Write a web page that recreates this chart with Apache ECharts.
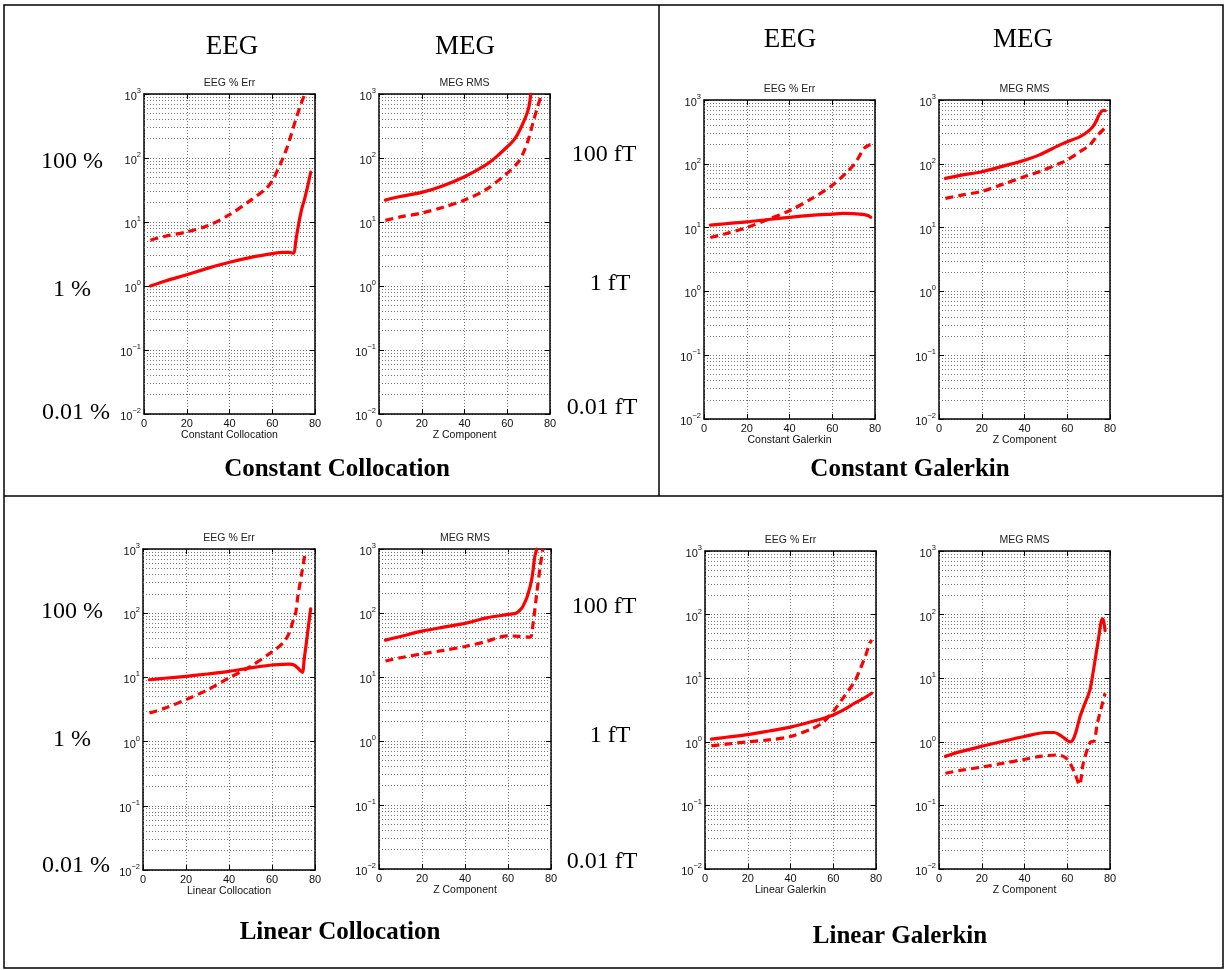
<!DOCTYPE html>
<html><head><meta charset="utf-8">
<script src="https://cdn.jsdelivr.net/npm/echarts@6/dist/echarts.min.js"></script>
<style>html,body{margin:0;padding:0;background:#fff}#c{width:1225px;height:970px}</style>
</head><body><div id="c"></div>
<script>
// ---- tick / label data ----
const xTicks = [0, 20, 40, 60, 80];
const yDecades = [0.01, 0.1, 1, 10, 100, 1000];
const panelTitles = ['EEG % Err', 'MEG RMS', 'EEG % Err', 'MEG RMS', 'EEG % Err', 'MEG RMS', 'EEG % Err', 'MEG RMS'];
const xNames = ['Constant Collocation', 'Z Component', 'Constant Galerkin', 'Z Component', 'Linear Collocation', 'Z Component', 'Linear Galerkin', 'Z Component'];

// ---- series values [x, y] ----
// Constant Collocation
const ccEegSolid = [[3,1.0],[10,1.2],[20,1.5],[30,1.9],[40,2.35],[50,2.8],[60,3.2],[65,3.35],[68,3.35],[70,3.25],[71,5],[72,8],[73,12],[74,17],[75,22],[76,30],[77,42],[78,60]];
const ccEegDashed = [[3,5.2],[10,6.0],[20,7.0],[30,8.8],[40,13],[50,22],[57,33],[60,44],[63,70],[65,100],[67,148],[69,240],[71,400],[73,630],[75.2,1000]];
const ccMegSolid = [[3,22],[10,25],[20,29],[30,37],[40,51],[50,78],[55,105],[60,150],[63,190],[65,240],[68,390],[70,600],[71,1000]];
const ccMegDashed = [[3,10.6],[10,12],[20,13.8],[30,17],[40,22],[50,32],[60,58],[65,85],[68,130],[70,200],[72,350],[74,600],[76.1,1000]];
// Constant Galerkin
const cgEegSolid = [[3,10.9],[10,11.5],[20,12.3],[30,13.4],[40,14.5],[50,15.5],[60,16.3],[65,16.7],[70,16.6],[75,16.0],[77,15.3],[78,14.5]];
const cgEegDashed = [[3,7.0],[10,8.0],[20,10],[30,13.5],[40,18.4],[50,28],[60,46],[70,96],[75,176],[77,195],[78,200]];
const cgMegSolid = [[3,59],[10,66],[20,75],[30,92],[40,114],[47,138],[56.6,198],[60,222],[66,266],[70.6,340],[73,430],[75.3,620],[76.9,690],[77.8,680]];
const cgMegDashed = [[3,28.7],[10,32],[20,37],[30,48],[40,63],[47.3,76],[56.6,102],[60,115],[66,155],[70.6,198],[74.4,285],[77.7,365]];
// Linear Collocation
const lcEegSolid = [[3,9.2],[10,9.7],[20,10.4],[30,11.3],[40,12.4],[50,14.1],[60,15.6],[65,16.0],[68,16.1],[70,15.7],[72,14],[73.5,12.5],[74.2,12],[75,19.5],[76,35],[77,65],[78,117]];
const lcEegDashed = [[3,2.8],[10,3.3],[20,4.5],[30,6.4],[40,9.8],[50,14.8],[60,25],[65,34],[68,49],[70,80],[71,100],[72,180],[74,450],[75.5,920]];
const lcMegSolid = [[3,37.7],[10,43],[20,52],[30,60],[40,69],[50,84],[60,95],[64,100],[66,115],[67,128],[69,183],[71,330],[72.5,770],[73.4,1000]];
const lcMegDashed = [[3,17.8],[10,20],[20,23],[30,26],[40,30],[50,36],[55,41],[60,44],[65,43],[70.3,42],[71.6,66],[73.4,206],[75,540],[76.2,1000]];
// Linear Galerkin
const lgEegSolid = [[3,1.10],[10,1.18],[20,1.30],[30,1.48],[40,1.70],[50,2.08],[60,2.65],[65,3.2],[70,4.05],[75,5.0],[78,5.8]];
const lgEegDashed = [[3,0.865],[10,0.92],[20,1.0],[30,1.07],[40,1.21],[50,1.6],[55,2.0],[60,3.0],[65,5.1],[70,8.9],[73,15],[75,22],[77,35],[78,40]];
const lgMegSolid = [[3,0.59],[10,0.70],[20,0.85],[30,1.02],[40,1.21],[50,1.40],[54,1.40],[57,1.25],[59.5,1.08],[61.3,1.0],[62.5,1.05],[64,1.4],[66,2.5],[68,3.8],[70.6,6.5],[72.2,13],[74.5,39],[76.4,86],[77,80],[77.7,56]];
const lgMegDashed = [[3,0.32],[10,0.355],[20,0.40],[30,0.46],[40,0.53],[47.3,0.59],[55,0.62],[58.2,0.59],[60,0.53],[62.1,0.41],[64,0.29],[65.7,0.21],[67.5,0.46],[69.9,0.85],[71,1.0],[72.5,1.02],[74.1,1.96],[76.1,3.6],[77.7,5.8]];

const solids = [ccEegSolid, ccMegSolid, cgEegSolid, cgMegSolid, lcEegSolid, lcMegSolid, lgEegSolid, lgMegSolid];
const dasheds = [ccEegDashed, ccMegDashed, cgEegDashed, cgMegDashed, lcEegDashed, lcMegDashed, lgEegDashed, lgMegDashed];

// ---- layout (px) ----
const layout = [
  [144, 94, 171, 320], [379, 94, 171, 320], [704, 100, 171, 319], [939, 100, 171, 319],
  [143, 549, 172, 321], [379, 549, 172, 320], [705, 551, 171, 318], [939, 551, 171, 318]
];

const SANS = '"Liberation Sans", Arial, sans-serif';
const SERIF = '"Liberation Serif", "Times New Roman", serif';

// minor log grid positions (2..9 within each decade)
const minorVals = [];
for (let i = 0; i < yDecades.length - 1; i++) {
  for (let m = 2; m <= 9; m++) minorVals.push(+(m * yDecades[i]).toPrecision(3));
}

const axisLineStyle = { color: '#000', width: 1.5 };
const gridLineStyle = { type: [1, 2], color: '#777', width: 1 };

const xAxis = [], yAxis = [], series = [], grid = [];
layout.forEach(([l, t, w, h], i) => {
  grid.push({ left: l, top: t, width: w, height: h });
  xAxis.push({
    gridIndex: i, type: 'value', min: xTicks[0], max: xTicks[xTicks.length - 1], interval: 20, position: 'bottom',
    axisLine: { onZero: false, lineStyle: axisLineStyle },
    axisTick: { inside: true, length: 5, lineStyle: { color: '#000' } },
    axisLabel: { margin: 4, fontSize: 11, color: '#111', fontFamily: SANS, showMinLabel: true, showMaxLabel: true },
    splitLine: { show: true, lineStyle: gridLineStyle },
    name: xNames[i], nameLocation: 'middle', nameGap: 16,
    nameTextStyle: { fontSize: 10.5, color: '#111', fontFamily: SANS, verticalAlign: 'top' }
  });
  xAxis.push({
    gridIndex: i, type: 'value', min: xTicks[0], max: xTicks[xTicks.length - 1], interval: 20, position: 'top',
    axisLine: { onZero: false, lineStyle: axisLineStyle },
    axisTick: { inside: true, length: 5, lineStyle: { color: '#000' } },
    axisLabel: { show: false }, splitLine: { show: false }
  });
  yAxis.push({
    gridIndex: i, type: 'log', logBase: 10, min: yDecades[0], max: yDecades[yDecades.length - 1], position: 'left',
    axisLine: { onZero: false, lineStyle: axisLineStyle },
    axisTick: { inside: true, length: 5, lineStyle: { color: '#000' } },
    axisLabel: {
      margin: 3, color: '#111', showMinLabel: true, showMaxLabel: true,
      formatter: function (v) {
        const e = Math.round(Math.log10(v));
        return '{b|10}{s|' + (e < 0 ? '\u2212' + (-e) : e) + '}';
      },
      rich: {
        b: { fontSize: 11, fontFamily: SANS, color: '#111', padding: [6, 0, 0, 0] },
        s: { fontSize: 7.5, fontFamily: SANS, color: '#111', padding: [0, 0, 6, 0] }
      }
    },
    splitLine: { show: true, lineStyle: gridLineStyle }
  });
  yAxis.push({
    gridIndex: i, type: 'log', logBase: 10, min: yDecades[0], max: yDecades[yDecades.length - 1], position: 'right',
    axisLine: { onZero: false, lineStyle: axisLineStyle },
    axisTick: { inside: true, length: 5, lineStyle: { color: '#000' } },
    axisLabel: { show: false }, splitLine: { show: false }
  });
  series.push({
    type: 'line', xAxisIndex: 2 * i, yAxisIndex: 2 * i, data: solids[i], showSymbol: false,
    smooth: 0.3, clip: true, z: 5,
    lineStyle: { color: '#ff0000', width: 3.2, cap: 'round', join: 'round' },
    markLine: {
      silent: true, symbol: 'none', animation: false, label: { show: false },
      lineStyle: gridLineStyle,
      data: minorVals.map(v => ({ yAxis: v }))
    }
  });
  series.push({
    type: 'line', xAxisIndex: 2 * i, yAxisIndex: 2 * i, data: dasheds[i], showSymbol: false,
    smooth: 0.3, clip: true, z: 5,
    lineStyle: { color: '#ff0000', width: 3.2, type: [8, 5] }
  });
});

const graphic = [
  { type: 'rect', silent: true, shape: { x: 4, y: 5, width: 1219, height: 963 }, style: { fill: 'none', stroke: '#000', lineWidth: 1.5 } },
  { type: 'line', silent: true, shape: { x1: 4, y1: 496, x2: 1223, y2: 496 }, style: { stroke: '#000', lineWidth: 1.5 } },
  { type: 'line', silent: true, shape: { x1: 659, y1: 5, x2: 659, y2: 496 }, style: { stroke: '#000', lineWidth: 1.5 } }
];
function txt(text, x, y, font) {
  graphic.push({ type: 'text', silent: true, x: x, y: y, style: { text: text, font: font, fill: '#000', align: 'center', verticalAlign: 'middle' } });
}
layout.forEach(([l, t, w], i) => {
  graphic.push({ type: 'text', silent: true, x: l + w / 2, y: t - 11,
    style: { text: panelTitles[i], font: '10.5px ' + SANS, fill: '#222', align: 'center', verticalAlign: 'middle' } });
});
const big = '27px ' + SERIF, side = '24px ' + SERIF, bold = 'bold 25px ' + SERIF;
txt('EEG', 232, 47, big); txt('MEG', 465, 47, big); txt('EEG', 790, 40, big); txt('MEG', 1023, 40, big);
txt('100 %', 72, 162, side); txt('1 %', 72, 290, side); txt('0.01 %', 76, 413, side);
txt('100 fT', 604, 155, side); txt('1 fT', 610, 284, side); txt('0.01 fT', 602, 408, side);
txt('Constant Collocation', 337, 470, bold); txt('Constant Galerkin', 910, 470, bold);
txt('100 %', 72, 612, side); txt('1 %', 72, 740, side); txt('0.01 %', 76, 866, side);
txt('100 fT', 604, 607, side); txt('1 fT', 610, 736, side); txt('0.01 fT', 602, 862, side);
txt('Linear Collocation', 340, 933, bold); txt('Linear Galerkin', 900, 937, bold);

const chart = echarts.init(document.getElementById('c'), null, { renderer: 'canvas' });
chart.setOption({ animation: false, backgroundColor: '#fff', grid, xAxis, yAxis, series, graphic });
</script></body></html>
